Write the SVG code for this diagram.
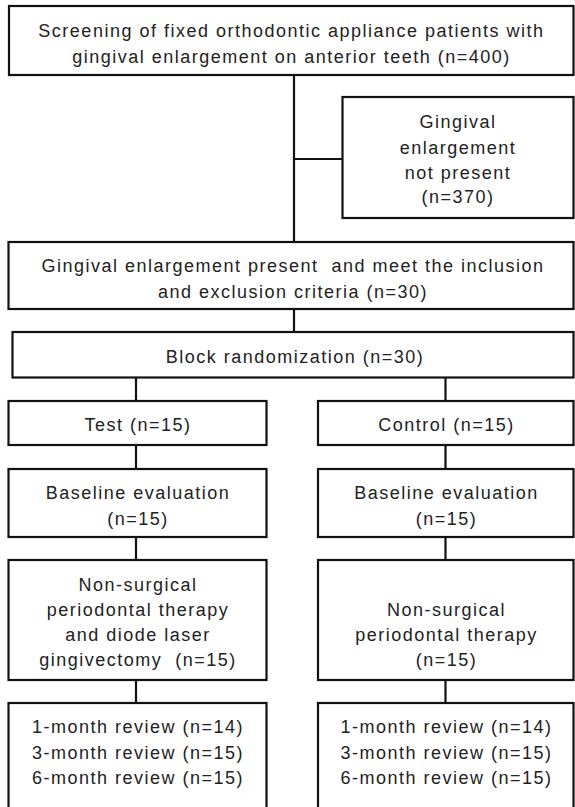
<svg xmlns="http://www.w3.org/2000/svg" width="575" height="807" viewBox="0 0 575 807">
<style>
.box{fill:#fff;stroke:#111;stroke-width:2.2}
.ln{fill:none;stroke:#111;stroke-width:2.2}
text{font-family:"Liberation Sans",Arial,sans-serif;font-size:18px;fill:#222;text-anchor:middle;letter-spacing:1.5px}
</style>
<rect x="0" y="0" width="575" height="807" fill="#fff"/>
<g id="connectors">
<line class="ln" x1="294" y1="75" x2="294" y2="242"/>
<line class="ln" x1="294" y1="159" x2="342.5" y2="159"/>
<line class="ln" x1="294" y1="309" x2="294" y2="332"/>
<line class="ln" x1="136" y1="377.5" x2="136" y2="401"/>
<line class="ln" x1="445.5" y1="377.5" x2="445.5" y2="401"/>
<line class="ln" x1="136" y1="445" x2="136" y2="469"/>
<line class="ln" x1="445.5" y1="445" x2="445.5" y2="469"/>
<line class="ln" x1="136" y1="537" x2="136" y2="560"/>
<line class="ln" x1="445.5" y1="537" x2="445.5" y2="560"/>
<line class="ln" x1="136" y1="680" x2="136" y2="703"/>
<line class="ln" x1="445.5" y1="680" x2="445.5" y2="703"/>
</g>
<g id="screening">
<rect class="box" x="9" y="6" width="564.5" height="69"/>
<text x="291.5" y="36.7">Screening of fixed orthodontic appliance patients with</text>
<text x="291.5" y="63">gingival enlargement on anterior teeth (n=400)</text>
</g>
<g id="not-present">
<rect class="box" x="342.5" y="97" width="231" height="121"/>
<text x="458" y="128">Gingival</text>
<text x="458" y="153.5">enlargement</text>
<text x="458" y="178.5">not present</text>
<text x="458" y="203">(n=370)</text>
</g>
<g id="present">
<rect class="box" x="8.5" y="242" width="565" height="67"/>
<text x="293" y="272">Gingival enlargement present&#160; and meet the inclusion</text>
<text x="293" y="298">and exclusion criteria (n=30)</text>
</g>
<g id="randomization">
<rect class="box" x="12.5" y="332" width="561" height="45.5"/>
<text x="295" y="363">Block randomization (n=30)</text>
</g>
<g id="test">
<rect class="box" x="8.5" y="401" width="258" height="44"/>
<text x="138" y="431">Test (n=15)</text>
</g>
<g id="control">
<rect class="box" x="318" y="401" width="255.5" height="44"/>
<text x="446.5" y="431">Control (n=15)</text>
</g>
<g id="baseline-test">
<rect class="box" x="8.5" y="469" width="258" height="68"/>
<text x="138" y="499">Baseline evaluation</text>
<text x="138" y="525">(n=15)</text>
</g>
<g id="baseline-control">
<rect class="box" x="318" y="469" width="255.5" height="68"/>
<text x="446.5" y="499">Baseline evaluation</text>
<text x="446.5" y="525">(n=15)</text>
</g>
<g id="therapy-test">
<rect class="box" x="8.5" y="560" width="258" height="120"/>
<text x="138" y="591">Non-surgical</text>
<text x="138" y="616">periodontal therapy</text>
<text x="138" y="641">and diode laser</text>
<text x="138" y="666">gingivectomy&#160; (n=15)</text>
</g>
<g id="therapy-control">
<rect class="box" x="318" y="560" width="255.5" height="120"/>
<text x="446.5" y="616">Non-surgical</text>
<text x="446.5" y="641">periodontal therapy</text>
<text x="446.5" y="666">(n=15)</text>
</g>
<g id="review-test">
<rect class="box" x="8.5" y="703" width="258" height="120"/>
<text x="138" y="733">1-month review (n=14)</text>
<text x="138" y="759">3-month review (n=15)</text>
<text x="138" y="784">6-month review (n=15)</text>
</g>
<g id="review-control">
<rect class="box" x="318" y="703" width="255.5" height="120"/>
<text x="446.5" y="733">1-month review (n=14)</text>
<text x="446.5" y="759">3-month review (n=15)</text>
<text x="446.5" y="784">6-month review (n=15)</text>
</g>
</svg>
